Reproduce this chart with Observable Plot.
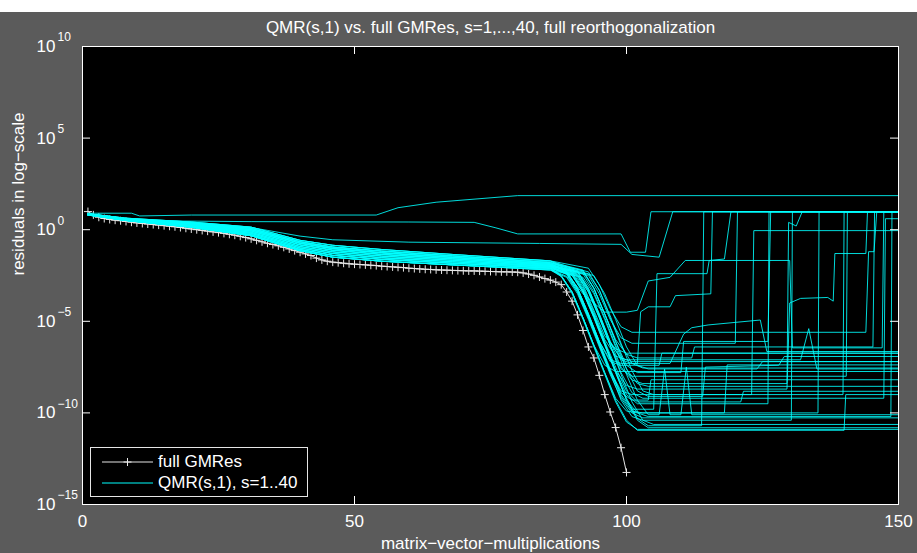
<!DOCTYPE html>
<html>
<head>
<meta charset="utf-8">
<script src="https://cdn.jsdelivr.net/npm/d3@7"></script>
<script src="https://cdn.jsdelivr.net/npm/@observablehq/plot@0.6"></script>
<style>
html,body{margin:0;padding:0;background:#5b5b5b;}
#wrap{position:relative;width:917px;height:553px;overflow:hidden;
  background:linear-gradient(#ffffff 0 12px,#5b5b5b 12px);
  font-family:"Liberation Sans",Arial,Helvetica,sans-serif;}
#chart{position:absolute;left:0;top:0;}
#legend{position:absolute;left:90px;top:447px;width:216px;height:48px;
  border:1px solid #e6e6e6;background:#000;color:#fff;font-size:17px;}
#legend svg{position:absolute;left:10px;top:0;}
#legend .lab{position:absolute;left:67px;line-height:20px;white-space:nowrap;}
</style>
</head>
<body>
<div id="wrap">
  <div id="chart"></div>
  <div id="legend"></div>
</div>
<script>
// ---------- text ----------
const titleText = "QMR(s,1) vs. full GMRes, s=1,...,40, full reorthogonalization";
const xLabelText = "matrix\u2212vector\u2212multiplications";
const yLabelText = "residuals in log\u2212scale";
const legendLabels = ["full GMRes", "QMR(s,1), s=1..40"];

// ---------- ticks ----------
const xTicks = [0, 50, 100, 150];
const yTickExps = [-15, -10, -5, 0, 5, 10];

// ---------- full GMRes: log10 residual for iterations 1..100 ----------
const gmresLog = [
  0.99, 0.81, 0.68, 0.61, 0.56, 0.52, 0.49, 0.45, 0.41, 0.37,
  0.34, 0.31, 0.28, 0.25, 0.22, 0.19, 0.16, 0.12, 0.08, 0.04,
  0.00, -0.04, -0.08, -0.12, -0.16, -0.20, -0.25, -0.30, -0.36, -0.43,
  -0.50, -0.58, -0.66, -0.74, -0.81, -0.88, -0.96, -1.05, -1.14, -1.23,
  -1.32, -1.41, -1.55, -1.65, -1.72, -1.77, -1.80, -1.83, -1.86, -1.88,
  -1.90, -1.92, -1.94, -1.96, -1.99, -2.01, -2.03, -2.05, -2.07, -2.10,
  -2.12, -2.14, -2.16, -2.17, -2.19, -2.20, -2.21, -2.22, -2.23, -2.24,
  -2.25, -2.25, -2.26, -2.27, -2.28, -2.29, -2.30, -2.30, -2.31, -2.32,
  -2.36, -2.42, -2.49, -2.58, -2.67, -2.75, -2.86, -3.00, -3.40, -3.90,
  -4.65, -5.50, -6.40, -7.00, -7.95, -9.00, -9.95, -10.80, -11.90, -13.25
];

// ---------- QMR(s,1) runs: [iteration, log10 residual] breakpoints ----------
const bundleA = [[1,.87],[8,.63],[20,.42],[31,.14],[40,-.58],[46,-.85],[55,-1.08],[68,-1.35]];
const bundleB = [[1,.86],[8,.60],[20,.37],[31,.07],[40,-.66],[46,-.95],[55,-1.17],[68,-1.43]];
const bundleC = [[1,.85],[8,.58],[20,.33],[31,0],[40,-.74],[46,-1.03],[55,-1.26],[68,-1.51]];
const bundleD = [[1,.84],[8,.56],[20,.28],[31,-.07],[40,-.83],[46,-1.12],[55,-1.35],[68,-1.59]];
const bundleE = [[1,.83],[8,.54],[20,.24],[31,-.14],[40,-.92],[46,-1.21],[55,-1.44],[68,-1.67]];
const bundleF = [[1,.82],[8,.52],[20,.20],[31,-.20],[40,-1.00],[46,-1.30],[55,-1.53],[68,-1.75]];
const bundleG = [[1,.81],[8,.51],[20,.16],[31,-.27],[40,-1.08],[46,-1.40],[55,-1.62],[68,-1.83]];
const bundleH = [[1,.80],[8,.50],[20,.13],[31,-.33],[40,-1.15],[46,-1.50],[55,-1.72],[68,-1.92]];

const qmrRuns = [
  [[1,.9],[9,.9],[10.5,.75],[20,.8],[54,.8],[58,1.2],[65,1.5],[80,1.86],[150,1.86]],
  [[1,.88],[8,.62],[15,.48],[31,.44],[60,.42],[72,.4],[76,.1],[80,-.23],[99,-.23],[100.7,-1.23],[103.5,-1.23],[104.5,.98],[150,.98]],
  [[1,.87],[8,.6],[20,.38],[31,.12],[40,-.35],[46,-.55],[60,-.68],[84,-.75],[99,-.8],[101,-1.35],[106,-1.5],[108.5,.98],[150,.98]],
  [...bundleA,[86,-1.7],[88,-2.0],[92,-3.5],[96,-4.5],[100,-4.5],[102,-4.4],[104,-2.8],[108,-2.6],[110.8,-1.68],[130,-1.68],[130.5,-6.45],[147,-6.45],[147.3,.98],[150,.98]],
  [...bundleH,[86,-2.2],[88,-2.55],[90,-3.5],[92,-4.9],[94,-6.4],[96,-7.9],[98,-9.4],[100,-10.5],[102,-10.9],[150,-10.9]],
  [...bundleF,[86,-2.05],[90,-2.45],[92,-3.4],[94,-4.7],[96,-6.2],[98,-7.7],[100,-9.3],[102,-10.4],[104,-10.81],[150,-10.81]],
  [...bundleD,[86,-1.95],[91,-2.4],[93,-3.3],[95,-4.7],[97,-6.3],[99,-7.9],[101,-9.4],[103,-10.4],[105,-10.63],[150,-10.63]],
  [...bundleH,[86,-2.2],[89,-2.6],[91,-3.5],[93,-4.9],[95,-6.4],[97,-7.9],[99,-9.2],[101,-10.0],[103,-10.27],[150,-10.27]],
  [...bundleC,[86,-1.85],[90,-2.3],[92,-3.2],[94,-4.6],[96,-6.1],[98,-7.5],[100,-8.8],[102,-9.4],[121,-9.4],[121.5,-8.82],[150,-8.82]],
  [...bundleD,[86,-1.95],[92,-2.4],[94,-3.4],[96,-4.8],[98,-6.3],[100,-7.6],[102,-8.4],[104,-8.55],[150,-8.55]],
  [...bundleF,[86,-2.05],[89,-2.45],[91,-3.4],[93,-4.8],[95,-6.3],[97,-7.8],[99,-8.9],[101,-9.3],[104,-9.3],[104.5,-8.19],[150,-8.19]],
  [...bundleG,[86,-2.1],[88,-2.5],[90,-3.4],[92,-4.8],[94,-6.3],[96,-7.4],[98,-7.74],[150,-7.74]],
  [...bundleB,[86,-1.8],[93,-2.3],[95,-3.3],[97,-4.8],[99,-6.3],[101,-7.3],[103,-7.55],[150,-7.55]],
  [...bundleE,[86,-2.0],[89,-2.4],[91,-3.3],[93,-4.7],[95,-6.2],[97,-7.7],[99,-9.1],[101,-9.9],[103,-10.0],[118,-10.0],[118.5,-7.38],[150,-7.38]],
  [...bundleC,[86,-1.9],[91,-2.3],[93,-3.3],[95,-4.7],[97,-6.2],[99,-7.0],[101,-7.2],[150,-7.2]],
  [...bundleB,[86,-1.75],[92,-2.2],[94,-3.2],[96,-4.6],[98,-6.1],[100,-7.6],[102,-8.8],[104,-9.1],[114,-9.1],[114.5,-7.5],[128,-7.4],[129,-6.92],[150,-6.92]],
  [...bundleA,[86,-1.7],[90,-2.1],[92,-3.0],[94,-4.4],[96,-5.8],[98,-6.5],[100,-6.74],[150,-6.74]],
  [...bundleC,[86,-1.85],[89,-2.25],[91,-3.2],[93,-4.6],[95,-6.1],[97,-7.1],[99,-7.3],[108,-7.3],[110.5,-5.7],[112,-5.35],[115,-5.2],[124.6,-4.93],[125.8,-6.65],[150,-6.65]],
  [...bundleH,[86,-2.15],[88,-2.55],[90,-3.4],[92,-4.8],[94,-6.3],[96,-7.8],[98,-9.3],[100,-10.4],[102,-10.95],[140,-10.95],[140.3,-9.0],[150,-9.0]],
  [...bundleG,[86,-2.1],[90,-2.5],[92,-3.4],[94,-4.8],[96,-6.3],[98,-7.8],[100,-9.2],[102,-10.3],[104,-10.7],[113.8,-10.7],[114.2,.98],[150,.98]],
  [...bundleB,[86,-1.8],[91,-2.25],[93,-3.2],[95,-4.6],[97,-6.1],[99,-7.1],[101,-7.3],[102,-7.3],[102.6,-4.48],[104,-4.21],[108,-4.21],[109,-3.6],[115.5,-3.5],[115.8,.98],[150,.98]],
  [...bundleC,[86,-1.9],[89,-2.3],[91,-3.2],[93,-4.6],[95,-6.1],[97,-7.6],[99,-9.0],[101,-9.8],[105,-9.8],[105.6,-2.4],[114.8,-2.4],[115.2,-1.68],[118,-1.6],[119.2,.98],[150,.98]],
  [...bundleE,[86,-2.0],[93,-2.5],[95,-3.5],[97,-4.9],[99,-5.9],[101,-6.2],[120,-6.2],[120.4,.98],[150,.98]],
  [...bundleD,[86,-1.95],[90,-2.35],[92,-3.3],[94,-4.7],[96,-6.2],[98,-7.7],[100,-9.0],[102,-9.5],[126,-9.5],[126.2,.98],[150,.98]],
  [...bundleB,[86,-1.8],[92,-2.25],[94,-3.2],[96,-4.6],[98,-6.1],[100,-7.4],[102,-7.8],[110,-7.8],[110.5,-6.1],[126,-6.1],[126.5,.98],[150,.98]],
  [...bundleH,[86,-2.15],[89,-2.55],[91,-3.4],[93,-4.8],[95,-6.3],[97,-7.8],[99,-9.3],[101,-10.2],[103,-10.4],[130.3,-10.4],[130.5,.98],[150,.98]],
  [...bundleC,[86,-1.9],[91,-2.3],[93,-3.2],[95,-4.6],[97,-6.1],[99,-7.5],[101,-8.2],[103,-8.4],[129.5,-8.4],[129.8,.4],[131.2,.2],[132.3,.98],[150,.98]],
  [...bundleE,[86,-2.0],[90,-2.4],[92,-3.3],[94,-4.7],[96,-6.2],[98,-7.7],[100,-8.5],[102,-8.7],[129.5,-8.7],[130,-4.0],[132,-3.75],[137,-3.7],[138,-3.9],[138.3,-1.3],[144,-1.3],[144.3,.98],[150,.98]],
  [...bundleG,[86,-2.1],[88,-2.5],[90,-3.4],[92,-4.8],[94,-6.3],[96,-7.8],[98,-9.2],[100,-9.9],[102,-10.0],[135.2,-10.0],[135.4,.98],[150,.98]],
  [...bundleA,[86,-1.7],[93,-2.1],[95,-3.0],[97,-4.3],[99,-5.3],[101,-5.6],[144,-5.6],[144.5,-1.2],[145.5,-1.2],[146,.98],[150,.98]],
  [...bundleE,[86,-2.0],[89,-2.4],[91,-3.3],[93,-4.7],[95,-6.2],[97,-7.7],[99,-8.8],[101,-9.0],[139.8,-9.0],[140,.98],[150,.98]],
  [...bundleG,[86,-2.1],[91,-2.5],[93,-3.4],[95,-4.8],[97,-6.3],[99,-7.6],[101,-8.0],[140.4,-8.0],[140.6,.98],[150,.98]],
  [...bundleC,[86,-1.85],[92,-2.3],[94,-3.2],[96,-4.6],[98,-6.0],[100,-6.8],[102,-7.0],[112,-7.0],[112.5,-6.4],[145.3,-6.4],[145.6,.98],[150,.98]],
  [...bundleG,[86,-2.1],[90,-2.5],[92,-3.4],[94,-4.8],[96,-6.3],[98,-7.8],[100,-9.3],[102,-10.0],[104,-10.2],[148.6,-10.2],[148.8,.98],[150,.98]],
  [...bundleD,[86,-1.95],[93,-2.4],[95,-3.3],[97,-4.7],[99,-6.2],[101,-7.7],[103,-8.8],[105,-9.0],[123,-9.0],[123.4,-.05],[150,-.05]],
  [...bundleF,[86,-2.05],[91,-2.45],[93,-3.4],[95,-4.8],[97,-6.3],[99,-7.8],[101,-8.9],[103,-9.2],[147.3,-9.2],[147.6,.6],[150,.6]],
  [...bundleB,[86,-1.8],[90,-2.2],[92,-3.1],[94,-4.5],[96,-6.0],[98,-6.9],[100,-7.1],[132,-7.1],[133.5,-5.4],[135,-7.6],[150,-7.6]],
  [...bundleH,[86,-2.2],[92,-2.6],[94,-3.5],[96,-4.9],[98,-6.4],[100,-7.9],[102,-9.3],[104,-10.1],[106,-10.1],[107,-7.6],[108,-10.1],[110,-10.1],[111,-7.5],[112,-10.1],[150,-10.1]],
  [...bundleD,[86,-1.9],[89,-2.3],[91,-3.2],[93,-4.6],[95,-6.1],[97,-7.2],[99,-7.4],[106,-7.4],[106.5,-6.74],[150,-6.74]],
  [...bundleF,[86,-2.0],[94,-2.5],[96,-3.5],[98,-4.9],[100,-6.4],[102,-7.4],[104,-7.6],[124,-7.6],[125,-7.2],[150,-7.2]]
];

// ---------- build tables ----------
const gmresRows = gmresLog.map((e, i) => ({x: i + 1, y: Math.pow(10, e)}));
const qmrRows = qmrRuns.flatMap((run, k) => run.map(([x, e]) => ({run: k + 1, x, y: Math.pow(10, e)})));
const yTickVals = yTickExps.map(e => Math.pow(10, e));

const plusSymbol = {
  draw(ctx, size) {
    const h = Math.sqrt(size / Math.PI);
    ctx.moveTo(-h, 0); ctx.lineTo(h, 0);
    ctx.moveTo(0, -h); ctx.lineTo(0, h);
  }
};

const W = 917, H = 553, mL = 82, mR = 19, mT = 46, mB = 49;
const fw = W - mL - mR, fh = H - mT - mB, tk = 8;
const FONT = "Liberation Sans, Arial, Helvetica, sans-serif";

const chart = Plot.plot({
  width: W, height: H,
  marginLeft: mL, marginRight: mR, marginTop: mT, marginBottom: mB,
  style: {background: "transparent", fontFamily: FONT, overflow: "visible"},
  x: {domain: [0, 150], axis: null},
  y: {type: "log", domain: [1e-15, 1e10], axis: null},
  marks: [
    Plot.frame({fill: "#000000", stroke: "none"}),
    Plot.line(gmresRows, {x: "x", y: "y", stroke: "#e4e4e4", strokeWidth: 1}),
    Plot.dot(gmresRows, {x: "x", y: "y", r: 4, symbol: plusSymbol, stroke: "#e8e8e8", fill: "none", strokeWidth: 1}),
    Plot.line(qmrRows, {x: "x", y: "y", z: "run", stroke: "#00ffff", strokeWidth: 1, strokeOpacity: 0.85}),
    // ticks inward on all four sides
    Plot.tickX(xTicks, {x: d => d, stroke: "#ffffff", insetTop: fh - tk}),
    Plot.tickX(xTicks, {x: d => d, stroke: "#ffffff", insetBottom: fh - tk}),
    Plot.tickY(yTickVals, {y: d => d, stroke: "#ffffff", insetRight: fw - tk}),
    Plot.tickY(yTickVals, {y: d => d, stroke: "#ffffff", insetLeft: fw - tk}),
    Plot.frame({stroke: "#ffffff", strokeWidth: 1}),
    // x tick labels
    Plot.text(xTicks, {x: d => d, frameAnchor: "bottom", dy: 17, lineAnchor: "middle",
      text: d => String(d), fill: "#ffffff", fontSize: 17}),
    // y tick labels: base and exponent
    Plot.text(yTickVals, {y: d => d, frameAnchor: "left", dx: -27, textAnchor: "end", lineAnchor: "middle",
      text: () => "10", fill: "#ffffff", fontSize: 17}),
    Plot.text(yTickExps, {y: e => Math.pow(10, e), frameAnchor: "left", dx: -25, dy: -9, textAnchor: "start",
      lineAnchor: "middle", text: e => (e < 0 ? "\u2212" + (-e) : String(e)), fill: "#ffffff", fontSize: 12}),
    // title and axis labels
    Plot.text([titleText], {frameAnchor: "top", dy: -19, lineAnchor: "middle", text: d => d, fill: "#ffffff", fontSize: 17}),
    Plot.text([xLabelText], {frameAnchor: "bottom", dy: 39, lineAnchor: "middle", text: d => d, fill: "#ffffff", fontSize: 17}),
    Plot.text([yLabelText], {frameAnchor: "left", dx: -64, rotate: -90, lineAnchor: "middle", text: d => d, fill: "#ffffff", fontSize: 17})
  ]
});
document.getElementById("chart").appendChild(chart);

// ---------- legend ----------
const legend = document.getElementById("legend");
const rowsY = [14, 35];
const ns = "http://www.w3.org/2000/svg";
const sw = document.createElementNS(ns, "svg");
sw.setAttribute("width", "54"); sw.setAttribute("height", "48");
const swatchColors = ["#e4e4e4", "#00ffff"];
rowsY.forEach((yy, i) => {
  const ln = document.createElementNS(ns, "line");
  ln.setAttribute("x1", "1"); ln.setAttribute("x2", "52");
  ln.setAttribute("y1", yy); ln.setAttribute("y2", yy);
  ln.setAttribute("stroke", swatchColors[i]); ln.setAttribute("stroke-width", "1");
  sw.appendChild(ln);
  const lab = document.createElement("div");
  lab.className = "lab"; lab.style.top = (yy - 10) + "px";
  lab.textContent = legendLabels[i];
  legend.appendChild(lab);
});
const mk = document.createElementNS(ns, "path");
mk.setAttribute("d", "M22.5,14h8M26.5,10v8");
mk.setAttribute("stroke", "#e8e8e8"); mk.setAttribute("fill", "none");
sw.appendChild(mk);
legend.appendChild(sw);
</script>
</body>
</html>
